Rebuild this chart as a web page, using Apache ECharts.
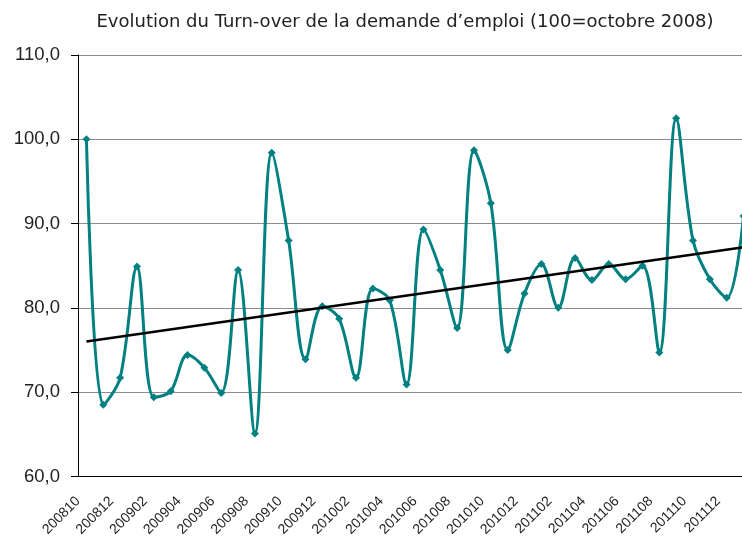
<!DOCTYPE html>
<html>
<head>
<meta charset="utf-8">
<script src="https://cdn.jsdelivr.net/npm/echarts@6/dist/echarts.min.js"></script>
<style>
  html, body { margin: 0; padding: 0; background: #fff; overflow: hidden; }
  /* le graphique d'origine est coupé à droite : on le dessine un peu plus large */
  #chart { width: 752px; height: 539px; }
</style>
</head>
<body>
<div id="chart"></div>
<script>
(function() {
  // mois 200810 -> 201201
  var months = [
    "200810", "200811", "200812", "200901", "200902", "200903", "200904", "200905",
    "200906", "200907", "200908", "200909", "200910", "200911", "200912", "201001",
    "201002", "201003", "201004", "201005", "201006", "201007", "201008", "201009",
    "201010", "201011", "201012", "201101", "201102", "201103", "201104", "201105",
    "201106", "201107", "201108", "201109", "201110", "201111", "201112", "201201"
  ];
  // indice turn-over (100 = octobre 2008)
  var turnover = [
    100.0, 68.5, 71.7, 84.9, 69.4, 70.1, 74.4, 72.9,
    69.9, 84.5, 65.1, 98.4, 88.0, 73.9, 80.2, 78.7,
    71.7, 82.3, 80.9, 70.9, 89.3, 84.5, 77.6, 98.7,
    92.4, 75.0, 81.7, 85.2, 80.0, 85.9, 83.3, 85.2,
    83.4, 85.0, 74.7, 102.5, 88.0, 83.4, 81.2, 90.9
  ];
  // tendance linéaire (début / fin)
  var trendStart = 76.0;
  var trendEnd = 87.2;

  var font = "'Liberation Sans', Arial, sans-serif";

  var myChart = echarts.init(document.getElementById("chart"));
  var option = {
    animation: false,
    title: {
      text: "Evolution du Turn-over de la demande d\u2019emploi (100=octobre 2008)",
      left: 400,
      textAlign: "center",
      top: 8,
      textStyle: {
        fontFamily: "'DejaVu Sans', sans-serif",
        fontSize: 18,
        fontWeight: "normal",
        color: "#222"
      }
    },
    grid: {
      left: 78,
      right: 0,
      top: 55,
      bottom: 61
    },
    xAxis: {
      type: "category",
      data: months,
      boundaryGap: true,
      axisLine: { lineStyle: { color: "#000", width: 1 } },
      axisTick: { interval: 1, length: 5, lineStyle: { color: "#000" } },
      axisLabel: {
        interval: 1,
        rotate: 45,
        fontFamily: font,
        fontSize: 14,
        color: "#222",
        margin: 14,
        padding: [0, 12, 0, 0]
      },
      splitLine: { show: false }
    },
    yAxis: {
      type: "value",
      min: 60,
      max: 110,
      interval: 10,
      axisLine: { show: true, lineStyle: { color: "#000", width: 1 } },
      axisTick: { show: true, length: 7, lineStyle: { color: "#000" } },
      axisLabel: {
        fontFamily: font,
        fontSize: 18.5,
        color: "#222",
        margin: 18,
        formatter: function(v) {
          return v.toFixed(1).replace(".", ",");
        }
      },
      splitLine: { lineStyle: { color: "#8c8c8c", width: 1 } }
    },
    series: [
      {
        type: "line",
        data: turnover,
        smooth: 0.35,
        symbol: "diamond",
        symbolSize: 8,
        lineStyle: { color: "#008080", width: 3 },
        itemStyle: { color: "#008080" },
        z: 3
      },
      {
        type: "line",
        data: [[months[0], trendStart], [months[months.length - 1], trendEnd]],
        symbol: "none",
        lineStyle: { color: "#000", width: 2.5 },
        z: 4
      }
    ]
  };
  myChart.setOption(option);
  window.addEventListener("resize", function() {
    myChart.resize();
  });
})();
</script>
</body>
</html>
